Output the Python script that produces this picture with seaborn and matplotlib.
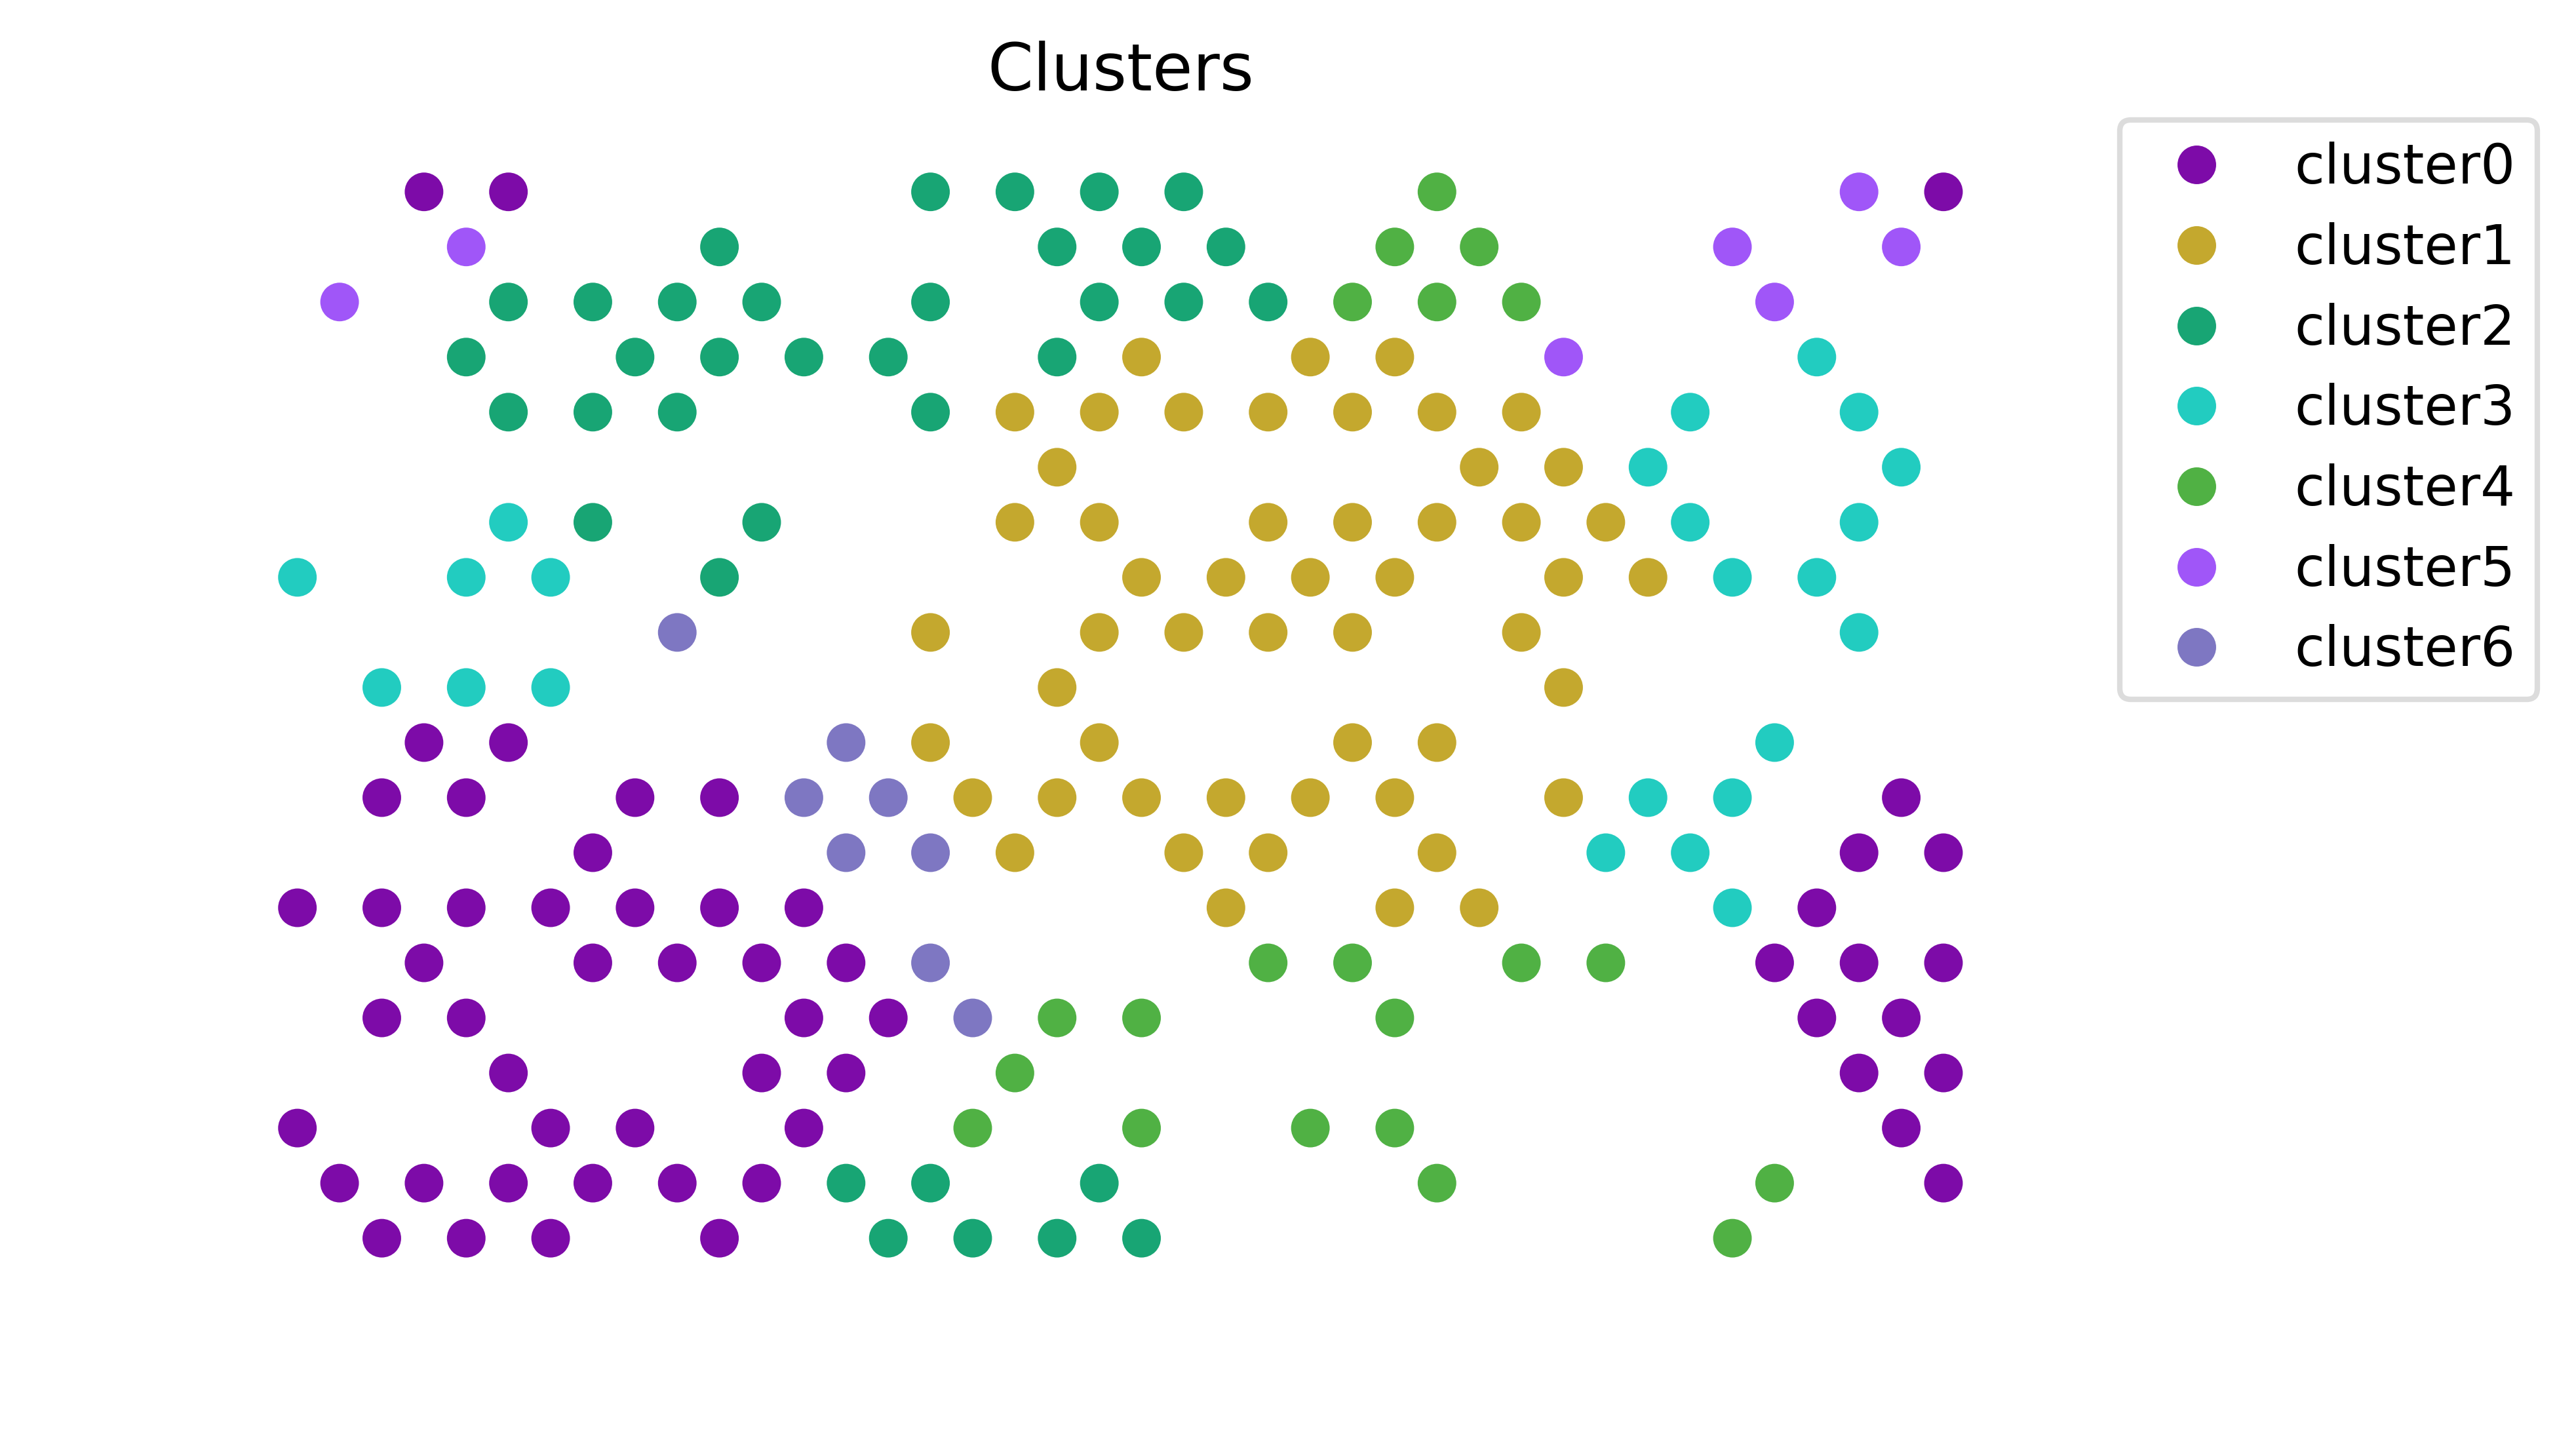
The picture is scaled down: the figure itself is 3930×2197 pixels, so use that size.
import numpy as np
import pandas as pd
import seaborn as sns
import matplotlib
matplotlib.use("Agg")
import matplotlib.pyplot as plt

# grid cells per cluster: column index (0..39) and row index (0 = top row)
cluster0_col = [3, 5, 39, 3, 5, 2, 4, 8, 10, 38, 7, 37, 39,
                0, 2, 4, 6, 8, 10, 12, 36, 3, 7, 9, 11, 13, 35, 37, 39,
                2, 4, 12, 14, 36, 38, 5, 11, 13, 37, 39,
                0, 6, 8, 12, 38, 1, 3, 5, 7, 9, 11, 39, 2, 4, 6, 10]
cluster0_row = [0, 0, 0, 10, 10, 11, 11, 11, 11, 11, 12, 12, 12,
                13, 13, 13, 13, 13, 13, 13, 13, 14, 14, 14, 14, 14, 14, 14, 14,
                15, 15, 15, 15, 15, 15, 16, 16, 16, 16, 16,
                17, 17, 17, 17, 17, 18, 18, 18, 18, 18, 18, 18, 19, 19, 19, 19]

cluster1_col = [20, 24, 26, 17, 19, 21, 23, 25, 27, 29, 18, 28, 30,
                17, 19, 23, 25, 27, 29, 31, 20, 22, 24, 26, 30, 32,
                15, 19, 21, 23, 25, 29, 18, 30, 15, 19, 25, 27,
                16, 18, 20, 22, 24, 26, 30, 17, 21, 23, 27, 22, 26, 28]
cluster1_row = [3, 3, 3, 4, 4, 4, 4, 4, 4, 4, 5, 5, 5,
                6, 6, 6, 6, 6, 6, 6, 7, 7, 7, 7, 7, 7,
                8, 8, 8, 8, 8, 8, 9, 9, 10, 10, 10, 10,
                11, 11, 11, 11, 11, 11, 11, 12, 12, 12, 12, 13, 13, 13]

cluster2_col = [15, 17, 19, 21, 10, 18, 20, 22, 5, 7, 9, 11, 15, 19, 21, 23,
                4, 8, 10, 12, 14, 18, 5, 7, 9, 15, 7, 11, 10,
                13, 15, 19, 14, 16, 18, 20]
cluster2_row = [0, 0, 0, 0, 1, 1, 1, 1, 2, 2, 2, 2, 2, 2, 2, 2,
                3, 3, 3, 3, 3, 3, 4, 4, 4, 4, 6, 6, 7,
                18, 18, 18, 19, 19, 19, 19]

cluster3_col = [36, 33, 37, 32, 38, 5, 33, 37, 0, 4, 6, 34, 36, 37,
                2, 4, 6, 35, 32, 34, 31, 33, 34]
cluster3_row = [3, 4, 4, 5, 5, 6, 6, 6, 7, 7, 7, 7, 7, 8,
                9, 9, 9, 10, 11, 11, 12, 12, 13]

cluster4_col = [27, 26, 28, 25, 27, 29, 23, 25, 29, 31, 18, 20, 26,
                17, 16, 20, 24, 26, 27, 35, 34]
cluster4_row = [0, 1, 1, 2, 2, 2, 14, 14, 14, 14, 15, 15, 15,
                16, 17, 17, 17, 17, 18, 18, 19]

cluster5_col = [37, 4, 34, 38, 1, 35, 30]
cluster5_row = [0, 1, 1, 1, 2, 2, 3]

cluster6_col = [9, 13, 12, 14, 13, 15, 15, 16]
cluster6_row = [8, 10, 11, 11, 12, 12, 14, 15]

labels = ["cluster0", "cluster1", "cluster2", "cluster3",
          "cluster4", "cluster5", "cluster6"]
colors = ["#7d0ba8", "#c4a82e", "#18a574", "#22ccc0",
          "#50b144", "#a056f8", "#7e77c2"]

cols = [cluster0_col, cluster1_col, cluster2_col, cluster3_col,
        cluster4_col, cluster5_col, cluster6_col]
rows = [cluster0_row, cluster1_row, cluster2_row, cluster3_row,
        cluster4_row, cluster5_row, cluster6_row]

frames = []
for lab, c, r in zip(labels, cols, rows):
    frames.append(pd.DataFrame({"x": np.array(c) / 2.0,
                                "y": 19 - np.array(r),
                                "cluster": lab}))
df = pd.concat(frames, ignore_index=True)

sns.set_style("white")
plt.rcParams['font.family'] = ['DejaVu Sans']
plt.rcParams['text.color'] = 'black'

fig = plt.figure(figsize=(6.55, 3.6617), dpi=600)
ax = fig.add_axes([0.0835, 0.1038, 0.7029, 0.7993])
sns.scatterplot(data=df, x="x", y="y", hue="cluster", hue_order=labels,
                palette=dict(zip(labels, colors)), s=50, linewidth=0, ax=ax)
ax.set_title("Clusters", fontsize=12, color="black", pad=9)
ax.axis("off")
handles, labs = ax.get_legend_handles_labels()
ax.legend(handles, labs, loc="upper left", bbox_to_anchor=(1.052, 1.017),
          borderaxespad=0, fontsize=10, frameon=True, edgecolor="#d4d4d4")

fig.savefig("out.png", dpi=600)
